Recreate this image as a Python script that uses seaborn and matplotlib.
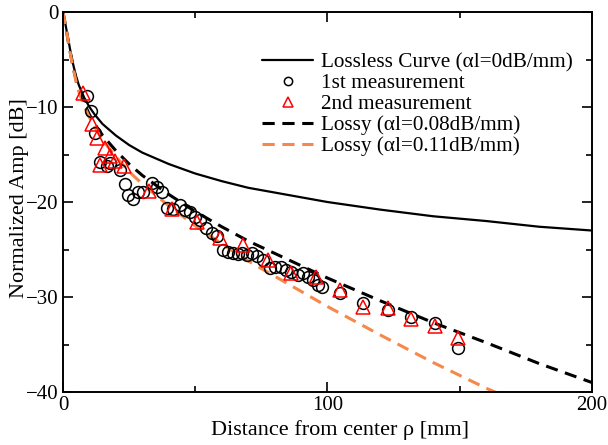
import numpy as np
import pandas as pd
import matplotlib
matplotlib.use("Agg")
import matplotlib.pyplot as plt
import seaborn as sns
from matplotlib.ticker import MultipleLocator

# ---- data ----
curve_rho = [0, 1, 2, 3, 4, 5, 6, 8, 10, 12, 15, 20, 25, 30, 40, 50, 60, 70, 80, 90,
             100, 120, 140, 160, 180, 200]
lossless_db = [0, -1.4, -2.9, -4.4, -5.7, -6.8, -7.7, -9.0, -10.0, -10.8, -11.8, -13.0, -14.0,
               -14.8, -16.0, -17.0, -17.8, -18.5, -19.0, -19.5, -20.0, -20.8, -21.5, -22.0,
               -22.6, -23.0]
lossy008_db = [0, -1.5, -3.1, -4.6, -6.0, -7.2, -8.2, -9.6, -10.8, -11.8, -13.0, -14.6, -16.0,
               -17.2, -19.2, -21.0, -22.6, -24.1, -25.4, -26.7, -28.0, -30.4, -32.7, -34.8,
               -37.0, -39.0]
lossy011_rho = [0, 1, 2, 3, 4, 5, 6, 8, 10, 12, 15, 20, 25, 30, 40, 50, 60, 70, 80, 90,
                100, 120, 140, 160, 165]
lossy011_db = [0, -1.5, -3.1, -4.7, -6.1, -7.4, -8.4, -9.9, -11.1, -12.1, -13.5, -15.2, -16.8,
               -18.1, -20.4, -22.5, -24.4, -26.2, -27.8, -29.4, -31.0, -34.0, -36.9, -39.6,
               -40.2]

meas1_rho = [9.2, 10.5, 12.1, 14.0, 16.5, 17.8, 21.5, 23.4, 24.6, 26.5, 28.4, 30.3, 33.7, 35.6,
             37.4, 39.3, 41.6, 44.2, 46.1, 48.0, 49.9, 51.8, 54.1, 56.3, 58.2, 60.5, 62.4,
             64.3, 66.2, 67.7, 69.6, 71.5, 73.3, 75.6, 78.3, 80.2, 82.4, 84.3, 86.2, 88.8,
             90.7, 92.6, 94.5, 96.4, 97.9, 104.7, 113.4, 122.9, 131.6, 140.6, 149.3]
meas1_db = [-8.8, -10.4, -12.7, -15.8, -16.2, -15.9, -16.6, -18.1, -19.3, -19.7, -18.9, -18.9,
            -18.0, -18.4, -18.9, -20.6, -20.7, -20.3, -20.8, -21.1, -21.6, -21.9, -22.7, -23.3,
            -23.6, -25.0, -25.3, -25.4, -25.5, -25.4, -25.6, -25.4, -25.7, -26.1, -26.9, -26.8,
            -26.8, -27.2, -27.4, -27.7, -27.5, -27.9, -28.2, -28.7, -28.9, -29.6, -30.6, -31.4,
            -32.1, -32.7, -35.4]

meas2_rho = [7.4, 10.8, 12.7, 14.0, 15.9, 17.8, 19.7, 22.9, 32.7, 41.2, 50.7, 59.4, 68.1, 77.5,
             86.2, 95.7, 104.7, 113.4, 122.9, 131.6, 140.6, 149.3]
meas2_db = [-8.5, -11.8, -13.3, -16.1, -14.3, -15.2, -15.7, -16.2, -18.8, -20.7, -22.1, -23.8,
            -24.5, -26.1, -27.5, -27.9, -29.3, -31.1, -31.2, -32.3, -33.1, -34.3]

labels = ["Lossless Curve (\u03b1l=0dB/mm)", "1st measurement", "2nd measurement",
          "Lossy (\u03b1l=0.08dB/mm)", "Lossy (\u03b1l=0.11dB/mm)"]

# ---- style ----
sns.set_theme(style="ticks")
plt.rcParams["font.family"] = ["Liberation Serif", "DejaVu Serif"]
plt.rcParams["text.color"] = "black"
plt.rcParams["axes.labelcolor"] = "black"

ORANGE = "#F5884A"

fig = plt.figure(figsize=(6.08, 4.45), dpi=100)
ax = fig.add_axes([0.1036, 0.119, 0.8701, 0.854])

df_curve = pd.DataFrame({"rho": curve_rho, "lossless": lossless_db, "lossy008": lossy008_db})
df_l011 = pd.DataFrame({"rho": lossy011_rho, "db": lossy011_db})
df_m1 = pd.DataFrame({"rho": meas1_rho, "db": meas1_db})
df_m2 = pd.DataFrame({"rho": meas2_rho, "db": meas2_db})

sns.lineplot(data=df_curve, x="rho", y="lossless", ax=ax, color="black", lw=1.6,
             label=labels[0], sort=False)
sns.lineplot(data=df_curve, x="rho", y="lossy008", ax=ax, color="black", lw=2.2,
             label=labels[3], sort=False)
sns.lineplot(data=df_l011, x="rho", y="db", ax=ax, color=ORANGE, lw=2.2,
             label=labels[4], sort=False)
lines = ax.get_lines()
lines[1].set_dashes([4, 2.5])
lines[2].set_dashes([4, 2.5])

ax.plot(df_m1["rho"], df_m1["db"], ls="none", marker="o", ms=8.5, mfc="none",
        mec="black", mew=1.1, label=labels[1])
ax.plot(df_m2["rho"], df_m2["db"], ls="none", marker="^", ms=9.5, mfc="none",
        mec="red", mew=1.1, label=labels[2])

ax.set_xlim(0, 200)
ax.set_ylim(-40, 0)
ax.xaxis.set_major_locator(MultipleLocator(100))
ax.xaxis.set_minor_locator(MultipleLocator(50))
ax.yaxis.set_major_locator(MultipleLocator(10))
ax.yaxis.set_minor_locator(MultipleLocator(5))
ax.tick_params(which="both", direction="in", top=True, right=True, width=1.2,
               labelsize=15, colors="black")
ax.tick_params(which="major", length=7)
ax.tick_params(which="minor", length=4)
ax.tick_params(axis="x", pad=3)
ax.tick_params(axis="y", pad=3)
for s in ax.spines.values():
    s.set_linewidth(1.4)
    s.set_color("black")

ax.set_xlabel("Distance from center \u03c1 [mm]", fontsize=16, labelpad=3)
ax.set_ylabel("Normalized Amp [dB]", fontsize=16, labelpad=4)
ax.xaxis.set_label_coords(0.524, -0.075)
ax.yaxis.set_label_coords(-0.064, 0.51)

handles, labs = ax.get_legend_handles_labels()
order = [labs.index(l) for l in labels]
ax.legend([handles[i] for i in order], [labs[i] for i in order], loc="upper right",
          bbox_to_anchor=(0.979, 0.916), frameon=False, fontsize=15.3, handlelength=2.4,
          handletextpad=0.35, labelspacing=0.05, borderaxespad=0.0, borderpad=0.4,
          markerscale=0.7)

fig.savefig("out.png", dpi=100)
